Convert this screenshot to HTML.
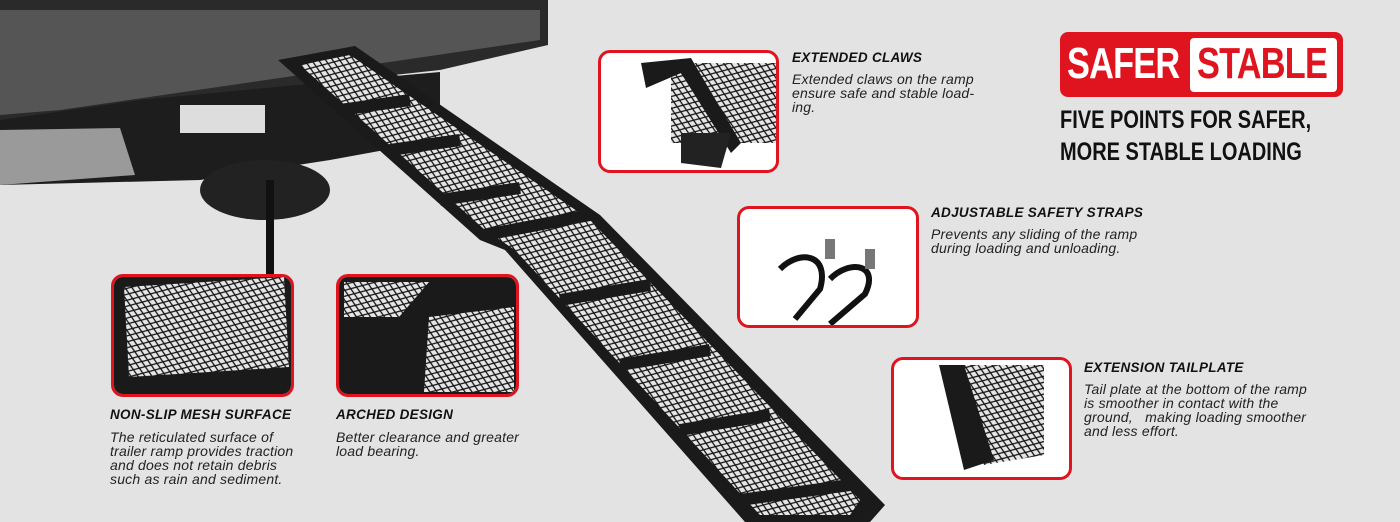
<!DOCTYPE html>
<html><head><meta charset="utf-8"><style>
body{margin:0;width:1400px;height:522px;overflow:hidden;background:#e3e3e3;font-family:"Liberation Sans",sans-serif;position:relative}
.box{position:absolute;border:3px solid #e0141e;border-radius:12px;background:#fff;box-sizing:border-box;overflow:hidden}
.h{position:absolute;font-weight:bold;font-style:italic;font-size:13.5px;color:#111;letter-spacing:.3px}
.t{position:absolute;font-style:italic;font-size:14px;color:#222;line-height:14px;letter-spacing:.2px}
.sc{position:absolute;font-weight:bold;font-size:44px;line-height:46px;letter-spacing:-1px;transform:scaleX(.78);transform-origin:left}
</style></head><body>
<svg width="1400" height="522" style="position:absolute;left:0;top:0">
<defs>
<pattern id="m" width="10" height="7" patternUnits="userSpaceOnUse" patternTransform="rotate(20)">
<rect width="10" height="7" fill="#e6e6e6"/><path d="M0 3.5L5 0L10 3.5L5 7Z" fill="none" stroke="#111" stroke-width="1.3"/></pattern>
</defs>
<polygon points="0,0 548,0 548,45 440,70 300,85 60,130 0,140" fill="#2a2a2a"/>
<polygon points="0,10 540,10 540,40 60,110 0,115" fill="#555"/>
<polygon points="0,120 140,100 350,80 440,72 440,140 330,160 200,180 0,185" fill="#1d1d1d"/>
<rect x="180" y="105" width="85" height="28" fill="#ddd"/>
<polygon points="0,130 120,128 135,175 0,185" fill="#9a9a9a"/>
<ellipse cx="265" cy="190" rx="65" ry="30" fill="#222"/>
<rect x="266" y="180" width="8" height="95" fill="#111"/>
<polygon points="278,60 355,46 600,215 885,505 870,522 745,522 505,250 480,240" fill="#1a1a1a"/>
<polygon points="300,65 350,55 590,220 860,500 850,515 760,515 515,250 485,230" fill="url(#m)"/>
<g stroke="#1a1a1a" stroke-width="12">
<line x1="340" y1="110" x2="410" y2="100"/><line x1="390" y1="150" x2="460" y2="140"/>
<line x1="440" y1="200" x2="520" y2="188"/><line x1="485" y1="235" x2="590" y2="215"/>
<line x1="560" y1="300" x2="650" y2="285"/><line x1="620" y1="365" x2="710" y2="350"/>
<line x1="680" y1="430" x2="770" y2="415"/><line x1="740" y1="500" x2="850" y2="485"/>
</g>
</svg>
<div class="box" style="left:598px;top:50px;width:181px;height:123px"><svg width="180" height="120"><rect x="70" y="10" width="110" height="80" fill="url(#m)"/><polygon points="40,10 90,5 140,90 130,100 80,20 45,35" fill="#1a1a1a"/><polygon points="80,80 130,80 120,115 80,110" fill="#222"/></svg></div>
<div class="box" style="left:737px;top:206px;width:182px;height:122px"><svg width="180" height="120"><path d="M40 60 C60 40 90 45 80 80 L55 110" stroke="#111" stroke-width="6" fill="none"/><path d="M90 70 C110 50 140 55 125 85 L90 115" stroke="#111" stroke-width="6" fill="none"/><rect x="85" y="30" width="10" height="20" fill="#777"/><rect x="125" y="40" width="10" height="20" fill="#777"/></svg></div>
<div class="box" style="left:891px;top:357px;width:181px;height:123px"><svg width="180" height="120"><polygon points="60,5 150,5 150,95 90,105" fill="url(#m)"/><polygon points="45,5 70,5 100,100 70,110" fill="#1a1a1a"/></svg></div>
<div class="box" style="left:111px;top:274px;width:183px;height:123px"><svg width="180" height="120"><rect width="180" height="120" fill="#1a1a1a"/><polygon points="10,10 170,0 175,90 15,100" fill="url(#m)"/></svg></div>
<div class="box" style="left:336px;top:274px;width:183px;height:123px"><svg width="180" height="120"><rect width="180" height="120" fill="#1a1a1a"/><polygon points="5,5 90,5 60,40 5,40" fill="url(#m)"/><polygon points="90,40 175,30 175,115 85,115" fill="url(#m)"/></svg></div>
<div class="h" style="left:792px;top:50px">EXTENDED CLAWS</div>
<div class="t" style="left:792px;top:72px">Extended claws on the ramp<br>ensure safe and stable load-<br>ing.</div>
<div class="h" style="left:931px;top:205px">ADJUSTABLE SAFETY STRAPS</div>
<div class="t" style="left:931px;top:227px">Prevents any sliding of the ramp<br>during loading and unloading.</div>
<div class="h" style="left:1084px;top:360px">EXTENSION TAILPLATE</div>
<div class="t" style="left:1084px;top:382px">Tail plate at the bottom of the ramp<br>is smoother in contact with the<br>ground,&nbsp;&nbsp; making loading smoother<br>and less effort.</div>
<div class="h" style="left:110px;top:407px">NON-SLIP MESH SURFACE</div>
<div class="t" style="left:110px;top:430px">The reticulated surface of<br>trailer ramp provides traction<br>and does not retain debris<br>such as rain and sediment.</div>
<div class="h" style="left:336px;top:407px">ARCHED DESIGN</div>
<div class="t" style="left:336px;top:430px">Better clearance and greater<br>load bearing.</div>
<div style="position:absolute;left:1060px;top:32px;width:283px;height:65px;background:#e0141e;border-radius:8px"></div>
<div class="sc" style="left:1067px;top:41px;color:#fff">SAFER</div>
<div style="position:absolute;left:1190px;top:38px;width:147px;height:54px;background:#fff;border-radius:4px"></div>
<div class="sc" style="left:1197px;top:41px;color:#e0141e">STABLE</div>
<div style="position:absolute;left:1060px;top:104px;font-weight:bold;font-size:25px;color:#111;line-height:32px;transform:scaleX(.8);transform-origin:left">FIVE POINTS FOR SAFER,<br>MORE STABLE LOADING</div>
</body></html>
